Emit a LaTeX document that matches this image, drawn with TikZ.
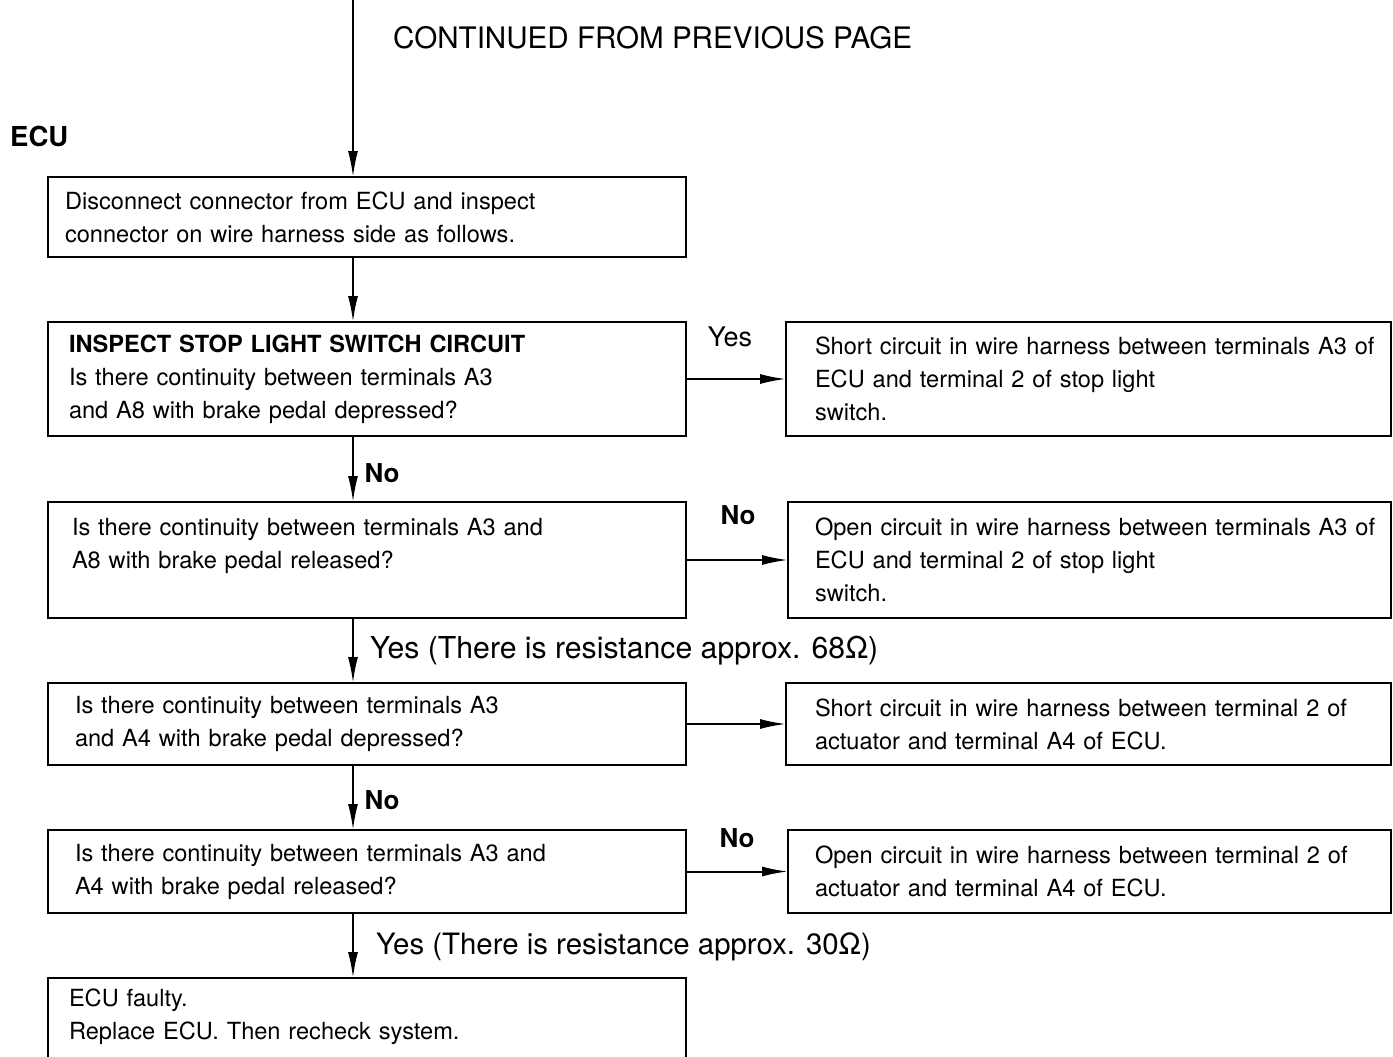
\documentclass[tikz,border=0pt]{standalone}
\usepackage{fontspec}
\setmainfont{TeX Gyre Heros}
\usetikzlibrary{arrows.meta}

\begin{document}
\begin{tikzpicture}[x=1pt,y=-1pt,
  box/.style={draw, line width=2.7pt, rectangle, outer sep=0pt, inner ysep=0pt,
    align=left, anchor=north west, font=\fontsize{23.6}{33}\selectfont},
  conn/.style={line width=2pt, -{Latex[length=26pt,width=10pt]}},
  lbl/.style={inner sep=0pt, font=\fontsize{27}{32}\selectfont},
  nolbl/.style={inner sep=0pt, font=\fontsize{26}{30}\selectfont\bfseries},
  biglbl/.style={inner sep=0pt, anchor=west, font=\fontsize{30}{34}\selectfont}]

\useasboundingbox (0,0) rectangle (1393,1057);
\clip (0,0) rectangle (1393,1057);

% main column of checks
\node[box, inner xsep=17pt, text width=604pt, minimum height=80pt] (b1) at (48,177)
  {Disconnect connector from ECU and inspect\\connector on wire harness side as follows.};
\node[box, inner xsep=21pt, text width=596pt, minimum height=114pt] (b2) at (48,322)
  {\textbf{INSPECT STOP LIGHT SWITCH CIRCUIT}\\Is there continuity between terminals A3\\and A8 with brake pedal depressed?};
\node[box, inner xsep=24pt, text width=590pt, minimum height=116pt] (b3) at (48,502)
  {Is there continuity between terminals A3 and\\A8 with brake pedal released?\\\mbox{}};
\node[box, inner xsep=27pt, text width=584pt, minimum height=82pt] (b4) at (48,683)
  {Is there continuity between terminals A3\\and A4 with brake pedal depressed?};
\node[box, inner xsep=27pt, text width=584pt, minimum height=83pt] (b5) at (48,830)
  {Is there continuity between terminals A3 and\\A4 with brake pedal released?};
\node[box, inner xsep=21pt, text width=596pt, minimum height=106pt] (b6) at (48,978)
  {ECU faulty.\\Replace ECU. Then recheck system.\\\mbox{}};

% diagnosis boxes on the right
\node[box, inner xsep=29pt, text width=547pt, minimum height=114pt] (r2) at (786,322)
  {\mbox{Short circuit in wire harness between terminals A3 of}\\ECU and terminal 2 of stop light\\switch.};
\node[box, inner xsep=27pt, text width=549pt, minimum height=116pt] (r3) at (788,502)
  {\mbox{Open circuit in wire harness between terminals A3 of}\\ECU and terminal 2 of stop light\\switch.};
\node[box, inner xsep=29pt, text width=547pt, minimum height=82pt] (r4) at (786,683)
  {Short circuit in wire harness between terminal 2 of\\actuator and terminal A4 of ECU.};
\node[box, inner xsep=27pt, text width=549pt, minimum height=83pt] (r5) at (788,830)
  {Open circuit in wire harness between terminal 2 of\\actuator and terminal A4 of ECU.};

% headings
\node[biglbl, font=\fontsize{29.6}{34}\selectfont] (cont) at (393,38) {CONTINUED FROM PREVIOUS PAGE};
\node[inner sep=0pt, anchor=west, font=\fontsize{27.5}{32}\selectfont\bfseries] (ecu) at (10,136) {ECU};

% flow down the main column
\coordinate (spine) at (353,0);
\draw[conn] (spine) -- (b1.north -| spine);
\draw[conn] (b1.south -| spine) -- (b2.north -| spine);
\draw[conn] (b2.south -| spine) -- (b3.north -| spine);
\draw[conn] (b3.south -| spine) -- (b4.north -| spine);
\draw[conn] (b4.south -| spine) -- (b5.north -| spine);
\draw[conn] (b5.south -| spine) -- (b6.north -| spine);

% branches to the right
\draw[conn] (b2.east) -- (r2.west);
\draw[conn] (b3.east) -- (r3.west);
\draw[conn] (b4.east) -- (r4.west);
\draw[conn] (b5.east) -- (r5.west);

% branch labels
\node[nolbl] (no1) at (382,473) {No};
\node[biglbl, font=\fontsize{30.2}{34}\selectfont] (yes68) at (370,651) {Yes (There is resistance approx. 68Ω)};
\node[nolbl] (no2) at (382,800) {No};
\node[biglbl, font=\fontsize{29.4}{34}\selectfont] (yes30) at (376,947) {Yes (There is resistance approx. 30Ω)};
\node[lbl] (yes1) at (730,337) {Yes};
\node[nolbl] (no3) at (738,515) {No};
\node[nolbl] (no4) at (737,838) {No};
\end{tikzpicture}
\end{document}
